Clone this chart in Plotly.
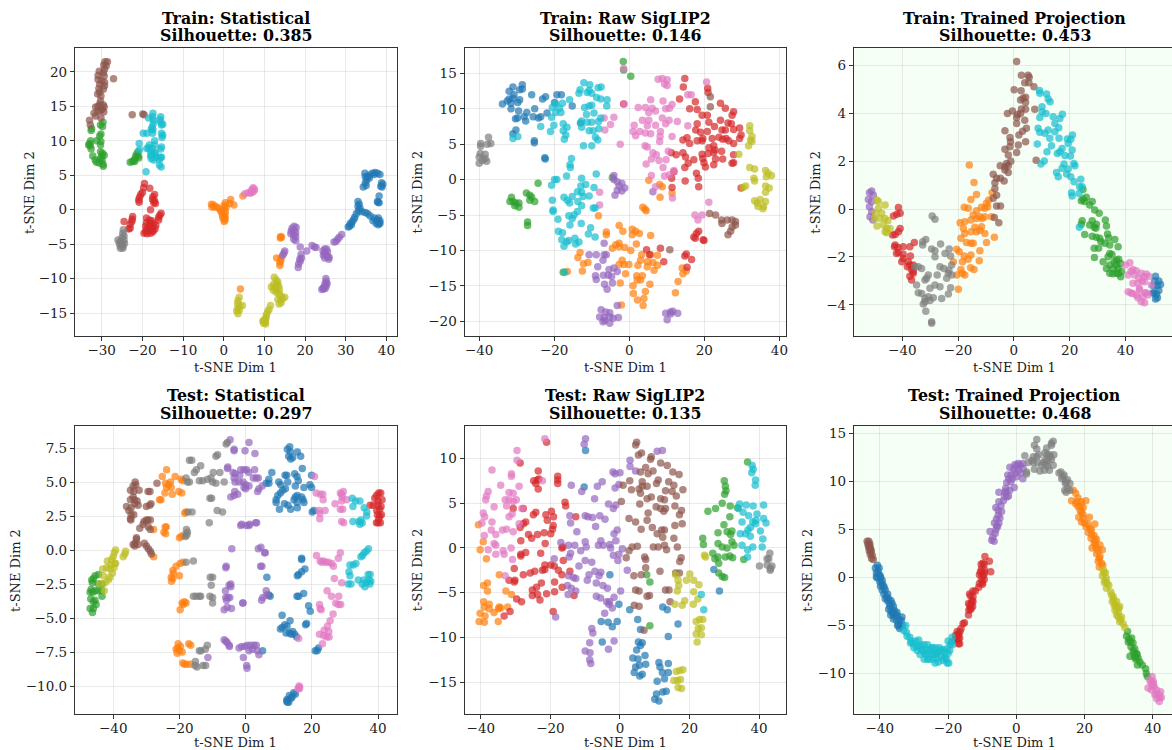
import plotly.graph_objects as go

BLUE, ORANGE, GREEN, RED, PURPLE, BROWN, PINK, GRAY, OLIVE, CYAN = (
    "#1f77b4", "#ff7f0e", "#2ca02c", "#d62728", "#9467bd",
    "#8c564b", "#e377c2", "#7f7f7f", "#bcbd22", "#17becf")

# ---- Train: Statistical
a_blue = [(34.7,5.3),(35.8,5),(36.5,5.3),(37.2,5.4),(37.8,5.3),(38.4,5.1),(34.8,4.8),(35.3,4.8),(35.8,4.6),(37,5.1),(35.2,4.3),(34.8,3.9),(35,3.5),(34.3,3.3),(38.8,3.9),(39.1,3.7),(38.6,3.4),(38.9,3.3),(38.2,2),(37.8,1.2),(38.2,1),(37.9,1.1),(33,1.2),(33.3,0.8),(33,0.5),(33.5,0.2),(33.1,-0.2),(34,-0.3),(34.8,-0.4),(35.4,-0.6),(36,-0.9),(32.6,-0.6),(32.2,-1.1),(32,-1.4),(31.6,-1.7),(31.1,-2),(30.9,-2.4),(30.6,-2.5),(31.4,-2.2),(37,-1.2),(38,-1.2),(37.7,-1.5),(38.4,-1.6),(38.2,-1.9),(37.5,-2),(38,-2.2),(38.4,-2),(36.7,-1.6)]
a_orange = [(-3,0.8),(-2.9,0.4),(-2.5,0.7),(-2.3,0.4),(-1.8,0.4),(-1.2,0.2),(-0.8,-0.1),(-0.5,-0.4),(0.4,1),(0.1,0.6),(0.6,0.4),(0.1,0.1),(0.4,-0.3),(-0.3,-0.8),(0.3,-0.8),(-0.2,-1.2),(0.3,-1.2),(0.1,-1.7),(0.3,-1.5),(1.7,1.5),(1.5,0.9),(2.5,0.7),(4.7,2),(14,-3.9),(13.9,-4.1),(14.2,-4),(13,-7),(14.1,-7),(14,-7.4),(13.8,-7.7),(13.8,-8.1),(4.1,-11.5)]
a_green = [(-29.7,12.7),(-30.3,12.3),(-29.8,12.1),(-32.5,11.8),(-32.6,11.5),(-30.2,11),(-30.5,10.7),(-32.7,10),(-31.2,10),(-30.2,9.9),(-30.3,9.4),(-33,9.6),(-32.8,9.3),(-33.2,9.4),(-32.6,8.8),(-30.3,8.4),(-29.8,8.2),(-30,7.8),(-29.4,7.9),(-32.2,7.8),(-30.4,7.4),(-29.9,7.2),(-31.6,7.2),(-31.3,6.9),(-30.6,6.8),(-29.7,6.6),(-29.6,6.3),(-21.1,8.4),(-21.5,8),(-21,7.8),(-21.7,7.6),(-20.9,7.5),(-22,7.2),(-22.5,7),(-21.9,7),(-23,6.9)]
a_red = [(-19.5,3.8),(-19.7,3.2),(-18.2,3.1),(-20,2.5),(-20.4,2.2),(-20.7,1.8),(-20.9,1.4),(-20.8,1.1),(-17,2.2),(-17.4,1.9),(-17.5,1.5),(-17,1.3),(-17.2,1),(-16.8,0.9),(-18,0),(-15.4,-0.5),(-15.7,-0.8),(-16,-1.1),(-16,-1.5),(-22.4,-1),(-22.5,-1.4),(-22.6,-1.7),(-24.5,-1.7),(-23,-2.1),(-23,-2.7),(-23.4,-2.8),(-19,-1.2),(-18.3,-1.5),(-17.7,-1.6),(-19,-1.9),(-18,-2),(-17.2,-2),(-19.2,-2.4),(-18.5,-2.5),(-17.6,-2.5),(-16.7,-2.3),(-19,-2.9),(-18.2,-3),(-17.5,-3),(-16.9,-2.8),(-19.6,-3.4),(-18.8,-3.5),(-18,-3.4),(-17.4,-3.2),(-19.2,-3.2)]
a_purple = [(17.3,-2.4),(16.8,-2.7),(17.8,-2.6),(16.6,-3.1),(17.3,-3.1),(17.7,-3.3),(16.5,-3.5),(17.2,-3.7),(17.7,-3.9),(17.2,-4.3),(17.7,-4.5),(18.8,-5.4),(15,-6),(14.8,-6.3),(14.5,-6.6),(19,-6.5),(19.1,-7),(18.7,-7.2),(18.8,-7.5),(18.4,-7.9),(18.3,-8.4),(20.4,-6),(21.7,-5.2),(22.3,-5.4),(22.7,-5.5),(24.8,-5.7),(25.3,-5.7),(24.4,-6),(25.5,-6.1),(24.8,-6.3),(24.5,-6.6),(25.2,-6.6),(24.8,-7),(25.5,-6.8),(25.9,-6.9),(25.8,-7.2),(25.1,-10),(25.2,-10.4),(25.4,-10.7),(24.9,-10.7),(25.2,-11),(24.7,-11.2),(25,-11.4),(24.4,-11.4),(24.1,-11.6),(24.6,-11.5),(27.1,-4.7),(27.6,-4.6),(28,-4.3),(28.4,-4),(29,-3.6)]
a_brown = [(-29.2,21.5),(-28.6,21.5),(-29.5,21),(-28.9,20.9),(-29.3,20.4),(-30.6,20.1),(-29.6,19.9),(-30.9,19.5),(-29.4,19.4),(-27.1,19),(-30.9,18.9),(-30,18.7),(-29.3,18.5),(-30.5,18.2),(-29.3,18),(-30.7,17.6),(-29.6,17.5),(-30.5,17.1),(-31,16.8),(-30.2,16.5),(-30.3,15.8),(-30.5,15.3),(-29.6,15.2),(-30.9,15),(-29.4,14.9),(-31.5,14.9),(-29.9,14.6),(-30.3,14.4),(-31,14.3),(-29.5,14.2),(-31.9,14),(-31.5,13.6),(-30.2,13.3),(-33,13),(-32.8,12.3),(-22.5,13.8),(-19.9,13.9),(-19.6,13.8)]
a_pink = [(5.2,2.3),(6,2.5),(6.5,2.4),(6.9,2.9),(7.2,3.2),(7.5,3),(7.2,2.6),(6.8,2.5),(7.5,2.8)]
a_gray = [(-24.7,-2.9),(-24.8,-3.4),(-24.5,-3.8),(-25,-4),(-26,-4.4),(-25.3,-4.5),(-24.5,-4.4),(-25.7,-4.8),(-25,-4.9),(-24.4,-4.9),(-25.5,-5.2),(-24.8,-5.3),(-25.4,-5.6),(-24.8,-5.6),(-25,-5.1)]
a_olive = [(12.4,-9.8),(12.9,-10.2),(13.3,-10.5),(12.3,-10.8),(13.1,-10.9),(11.7,-11.2),(12.5,-11.3),(13.5,-11.1),(12.2,-11.7),(13,-11.7),(13.7,-11.6),(12.9,-12),(13.6,-12.2),(14,-12.5),(14,-13.1),(13.3,-13),(14.5,-12.9),(15,-12.7),(13.6,-13.7),(14.1,-13.5),(11.5,-13.9),(11.1,-14.5),(10.8,-14.8),(10.5,-15.2),(10.4,-15.6),(10.3,-15.9),(9.9,-16),(9.6,-16.2),(10.2,-16.3),(9.8,-16.5),(10.3,-16.6),(3.8,-12.7),(3.5,-13.2),(3.4,-13.6),(4.6,-13.9),(3.9,-14),(3.4,-14.3),(3.2,-14.7),(3.8,-14.6),(3.5,-15.1)]
a_cyan = [(-17.4,14),(-15.5,13.5),(-17.5,13.5),(-18.5,13.3),(-15.7,13.1),(-17.3,13),(-15.5,12.7),(-17.3,12.5),(-15.3,12.3),(-15,12.4),(-17.6,12),(-17.8,11.7),(-17.4,11.6),(-19.8,11.1),(-18.9,11.1),(-17.5,11.1),(-15.3,11.1),(-15,10.8),(-15.2,10.5),(-17,10),(-20.8,9.6),(-18.3,9.4),(-17,9.4),(-18.5,9),(-15.3,9.1),(-15.5,8.8),(-18.9,8.9),(-17.5,8.9),(-18,8.5),(-20.7,8.7),(-16.8,8.3),(-17.7,8),(-17,8.1),(-18,7.8),(-15.3,7.6),(-16.7,7.6),(-17.8,7.4),(-15.8,7.3),(-17.2,7.2),(-15.6,7.6),(-15.8,6.5),(-15.4,6.2),(-19.1,5.5)]

# ---- Train: Raw SigLIP2
b_blue = [(-28.5,13.4),(-31,13.1),(-32,12.5),(-28.5,12.8),(-29.2,12.7),(-30.7,12),(-32,11.4),(-29.2,11.3),(-31,11.5),(-32.5,11.1),(-33.8,10.7),(-31.5,10.8),(-29.7,10.9),(-26,12),(-23.1,11.4),(-22.3,11.7),(-19.3,12),(-18.1,12),(-31.5,10),(-29.5,9.7),(-27.3,9.5),(-30.3,8.6),(-29.8,8.7),(-28,8.9),(-27.6,8.3),(-25.2,10),(-25.6,8.9),(-24.2,8.7),(-23.6,8.9),(-21.9,9.4),(-19.9,10.9),(-15.2,10.4),(-30.2,7),(-31,6.5),(-25.3,5.5),(-25.3,5.2),(-22.5,3.1),(-13,8),(-22.4,2.9)]
b_orange = [(5.2,-.1),(8.1,-.7),(8.8,-1),(11.4,-1.9),(8.2,-2.5),(3.6,-3.9),(4.2,-4.2),(4.5,-4.4),(-8.2,-5.1),(-2.7,-6.5),(-6.1,-7.4),(-6.1,-7.8),(-1.7,-7.3),(.8,-7),(1.7,-7.3),(.8,-7.8),(2.7,-7.6),(5.7,-7.9),(-2.7,-9),(1.9,-9.1),(-4.5,-9.7),(-2.7,-9.5),(-3.6,-9.2),(-1.2,-9.6),(.4,-10),(-13.1,-10.3),(-13.7,-11),(3.3,-10.6),(5.7,-10.6),(3,-11.4),(-1.9,-11.4),(7.5,-10.7),(-2.7,-12),(-1.4,-12),(-.1,-12),(4.8,-11.6),(6.3,-11.7),(-12.2,-11.9),(-11,-11.7),(2.3,-12.1),(4.8,-12.3),(7.5,-12.1),(-12.5,-12.9),(6.6,-12.8),(14.1,-12.5),(15.2,-12.9),(14.3,-13.3),(-1,-13.3),(-16.5,-13),(2,-13.6),(3.5,-13.6),(2.1,-14.2),(3,-14.2),(13,-14.4),(-2.4,-14.6),(1,-15),(5.5,-14.8),(4.3,-15.8),(1.1,-16.1),(12.3,-16),(3.9,-16.8),(2.2,-17),(-2.1,-17.7),(3.7,-17.8)]
b_green = [(-1.6,16.7),(-1.5,15.5),(.4,14.6),(-4.5,.3),(-24.3,-.5),(-27.4,-1.9),(-26.5,-2.2),(-26,-2.5),(-31.4,-2.5),(-31.8,-3.1),(-31,-3.1),(-30.3,-3.3),(-29.4,-3.3),(-30.5,-3.7),(-29.4,-3.9),(-26.5,-2.9),(-25.2,-3.1),(-27.1,-6),(-27.1,-6.5),(-17.6,-13.1)]
b_red = [(14.8,14.3),(14.4,13.1),(20.9,12.9),(21,12.3),(13.4,11.4),(17.6,11),(24.3,10.8),(25.6,10.1),(16.1,10),(18.1,9.9),(27.8,9.6),(19.4,9.1),(20.8,9.1),(27.4,9.1),(24.3,8.4),(18.1,7.9),(21.2,8.1),(26.3,8),(27.2,7.9),(22.7,7.5),(29.4,7.3),(17.7,7),(20.8,6.8),(24.7,7),(25.6,7),(27.8,7.1),(19,6.7),(29.8,6.3),(15.4,5.9),(19.6,5.8),(22.1,5.8),(23.9,6),(24.9,5.7),(25.8,5.8),(29.4,5.8),(14.3,5.6),(18.1,5.5),(19.4,5.5),(26.5,5.5),(27.8,5.1),(16.1,5.1),(22.5,4.8),(21.2,4.5),(22.8,4.2),(14.3,3.8),(24.6,4),(11.2,3.8),(12.5,3.5),(19.4,3.6),(22.5,3.8),(21,3.7),(15,3.2),(27.8,3.5),(19.6,3),(17.2,2.8),(15.7,2.3),(23,2.9),(24.9,2.9),(19.9,2.4),(27.4,2.3),(27.8,2.4),(20.3,1.8),(22.5,2.1),(14.8,1.7),(17.9,.9),(18.4,.2),(14.9,-.2),(11.3,.2),(11.4,-1.1),(18.5,-1),(11.9,1.1),(29.8,-1.2),(18.5,-7.3),(17.9,-7.6),(17.2,-8.1),(17.6,-8.3),(19.7,-8.5),(19.9,-8.6),(8.3,-9.7),(4.6,-9.9),(5.4,-10.6),(15.2,-10.5),(14.8,-10.8),(16.6,-11.3),(9.2,-11.6),(15.4,-12.4),(-1.5,10.7)]
b_purple = [(-4.1,.6),(-4.1,0),(-3.2,-.3),(-2,-.5),(-2.7,-.9),(-1.2,-1.2),(-3.2,-1.5),(-2,-1.6),(-3.8,-2.2),(6.3,-1.7),(-10.7,-10.6),(-8.8,-10.6),(-6.7,-9),(-6.7,-10.6),(-6.1,-10.6),(-7,-11.4),(-8.4,-12.3),(-5.4,-12.7),(-4.1,-12.5),(-3.2,-13),(-6.9,-13.5),(-9,-13.6),(-5.6,-13.5),(-4.7,-13.7),(-8.8,-14.1),(-6.6,-14.8),(-4.5,-14.6),(-5.9,-15.5),(-3.2,-17.8),(-7.5,-18.4),(-6.3,-18.7),(-5.2,-18.8),(-7.9,-19.4),(-6.7,-19.5),(-5.2,-19.4),(-4.3,-19.6),(-2.9,-19.5),(-7,-20.1),(-5.2,-20.3),(-6.5,-19.9),(9.7,-18.9),(11,-18.7),(11.6,-18.6),(12.9,-18.9),(11,-19),(10.1,-19.8)]
b_brown = [(21.6,11.7),(21.6,10.3),(10.8,-9.9),(21.4,-4.8),(23,-5),(24.6,-5.7),(26.1,-5.7),(27.4,-5.7),(28.3,-5.9),(24.7,-6.2),(28.3,-6.4),(27.4,-6.7),(27,-7.3),(26.3,-7.8)]
b_pink = [(-1.5,15.7),(7.7,14.2),(8.8,14.3),(10.1,14.1),(9.4,13.5),(10.1,13.3),(20.6,13.8),(-1.4,10.7),(5.7,11.3),(9,11.1),(15.6,12),(16.5,12),(2.4,10.2),(4.3,10.2),(6.1,10.1),(9.7,10),(11.4,10.6),(10.7,10.1),(5.2,9.5),(7,9.7),(-6.7,8.7),(-4.1,8.8),(3.5,8.4),(5.2,8.4),(8.8,8.7),(10.6,8.4),(12.8,8.2),(1.3,7.7),(4.8,7.6),(7,7.7),(9.7,7.9),(15.6,7.6),(-5,7.8),(-6.5,7),(1,6.8),(2.8,6.8),(1.7,6.2),(4.3,6.6),(5.7,6.5),(8.3,6.8),(8.2,6.1),(11.4,6.1),(8.1,5.4),(-2.4,5),(4.2,4.8),(4.8,4.6),(10.4,4),(6.3,3.8),(7.2,3.5),(5.9,2.9),(7.9,2.7),(9.8,2.8),(4.5,2.2),(9,1.7),(5.9,.6),(9.4,.5),(10.7,.7),(11.9,1.3),(-7.9,-1.8),(-7.9,-3.6),(7,-1),(11.5,-2.6),(21.2,-3.2),(17.5,-5),(19.4,-5),(18.3,-5.7)]
b_gray = [(-37.5,6),(-39.6,5.1),(-37.8,5),(-36.9,5.1),(-39.6,4.7),(-39.7,3.7),(-38.4,3.6),(-40,3.2),(-38.4,3),(-40,2.3),(-38,2.6),(-39.1,2.7)]
b_olive = [(32.1,7.6),(32.1,6.9),(32.7,6.1),(32.3,5.6),(32.7,5.4),(31.8,4.8),(29.2,3.6),(32.1,1.7),(33.4,1.5),(36.3,1.3),(37,.9),(37.9,.6),(36.5,.4),(33.2,.2),(33.4,-.2),(31,-.9),(30.3,-1.1),(36.3,-.9),(37.3,-1.2),(36.3,-1.8),(33.4,-3),(34.9,-2.8),(36.3,-3.1),(34.1,-3.3),(34.3,-3.8),(35.8,-3.8),(35.6,-4.1)]
b_cyan = [(-12.1,13.7),(-10.5,13.4),(-13.1,12.7),(-10.7,12.6),(-8.3,13),(-7.5,13.1),(-13.4,12.2),(-11.2,12.3),(-10,12.2),(-8.7,11.6),(-7.6,11.4),(-5.9,11.3),(-15.9,11.3),(-17.8,10.8),(-19.6,10.7),(-20.5,10.2),(-18.6,10.1),(-11.9,10.2),(-10.7,10.4),(-10,10.5),(-6,10.4),(-19.6,9.5),(-18.2,9.5),(-20.7,8.8),(-20.1,7.7),(-11.4,9.2),(-9.4,9.4),(-7.6,8.7),(-12.7,8.3),(-11.2,8.1),(-10,8.1),(-8.2,8.2),(-23.6,7.5),(-21,6.8),(-17.6,7.9),(-16.6,7.4),(-17.6,6.9),(-16.9,6.3),(-17.3,5.7),(-12.7,7.4),(-10.7,6.9),(-9.6,6.9),(-8.1,7.2),(-9,6),(-8.4,5.6),(-12.2,4.8),(-10,4.8),(-31,5.8),(-29.7,6.1),(-15.4,3),(-15.8,2.1),(-15.7,1.7),(-16.7,.5),(-12.7,.2),(-8.8,.8),(-19.9,0),(-20.7,-.8),(-19.3,0),(-12.9,-.9),(-11.6,-.7),(-9.4,-1.1),(-13.8,-1.7),(-12.7,-1.8),(-15.2,-2.4),(-12.3,-2.4),(-10.7,-2.3),(-17.4,-2.5),(-16.5,-2.9),(-20.5,-2.9),(-15.9,-3.3),(-13.7,-3.1),(-12.7,-3.7),(-9.6,-4),(-9.1,-4),(-20.3,-4.3),(-20.3,-4.5),(-16.1,-5.1),(-14.7,-5),(-13.8,-4.5),(-19,-5.6),(-15.2,-5.5),(-12.8,-6.2),(-15.8,-6.4),(-18.9,-7.3),(-17.8,-7.5),(-10.3,-6.8),(-10.9,-7.7),(-9.1,-8.1),(-18,-8.5),(-16.1,-8.6),(-14.5,-8.3),(-13.4,-8.8),(-17.4,-9.4),(-16.7,-8.8),(-14.3,-9.1),(-17.2,-13.1)]

# ---- Train: Trained Projection
c_blue = [(50.8,-2.8),(52,-3),(50,-3.2),(51.5,-3.2),(52.6,-3.15),(50.3,-3.5),(51.2,-3.55),(52,-3.4),(50.8,-3.75),(51.5,-3.7),(50.5,-3),(49.8,-3.5)]
c_orange = [(-16,1.84),(-14.3,1.11),(-13.4,.61),(-7.8,.68),(-9,.38),(-9.8,.24),(-15.4,.4),(-17.8,.07),(-16.4,.03),(-11.6,.07),(-9.4,.1),(-10.4,.03),(-13.4,-.07),(-14.6,-.25),(-12.2,-.32),(-10.4,-.32),(-8,-.32),(-19.3,-.57),(-17.6,-.53),(-15.4,-.46),(-13.4,-.39),(-11.4,-.39),(-18.1,-.81),(-14,-.76),(-11.6,-.74),(-17.6,-1.02),(-15.4,-.95),(-13.4,-.95),(-12.2,-.88),(-19,-1.22),(-10.4,-1.02),(-7,-1.18),(-17,-1.4),(-15.4,-1.43),(-14.6,-1.43),(-9.8,-1.4),(-20.5,-1.68),(-19.6,-1.78),(-12.2,-1.74),(-17.8,-1.96),(-15.4,-1.92),(-16.4,-2.1),(-18.4,-2.2),(-12.4,-2.16),(-21.7,-2.2),(-19,-2.52),(-15.5,-2.45),(-14.3,-2.52),(-20.5,-2.75),(-18.5,-2.68),(-17.6,-2.75),(-19.9,-3.35)]
c_green = [(24.8,.82),(26,.49),(24.8,.42),(24.2,.35),(25.4,.31),(28.1,.31),(27.2,.17),(29,-.04),(30.6,-.18),(24.5,-.49),(28.1,-.49),(32.8,-.46),(24.2,-.63),(27.2,-.67),(29.6,-.63),(28.8,-.76),(33.2,-.71),(25.4,-1.06),(28.1,-1.13),(29.6,-1.18),(30.8,-1.22),(33.6,-1.04),(36.2,-1.27),(32.6,-1.43),(34.4,-1.5),(28.8,-1.64),(30.4,-1.64),(37.4,-1.57),(34.4,-1.85),(28.9,-2.02),(33.8,-1.99),(36.8,-2.13),(32,-2.2),(34.4,-2.34),(36.8,-2.34),(38.3,-2.27),(33.2,-2.48),(35.6,-2.48),(37.4,-2.48),(38.6,-2.61),(34.4,-2.68),(36.8,-2.68),(38.3,-2.82),(37.5,-2.7),(35.5,-2.7),(36,-2.2),(37.6,-2.1),(35.2,-1.9),(34,-1.2),(29.4,-.8),(31.2,-1.35)]
c_red = [(-41.4,.06),(-40.8,-.18),(-42,-.22),(-43.2,-.29),(-40.8,-.81),(-41.4,-.95),(-42.6,-1.06),(-43.5,-1.08),(-35.7,-1.4),(-37.3,-1.57),(-39.7,-1.57),(-42.6,-1.5),(-41.6,-1.6),(-42.8,-1.57),(-41.4,-1.82),(-39.7,-1.89),(-42.1,-1.85),(-37.1,-1.96),(-39.7,-2.06),(-40.2,-2.2),(-37.9,-2.2),(-37.3,-2.34),(-36.1,-2.34),(-38.2,-2.41),(-36.7,-2.52),(-36.1,-2.61),(-37.3,-2.8),(-36.1,-2.68),(-36.7,-2.96)]
c_purple = [(-51,.75),(-51.8,.68),(-50.4,.58),(-52.2,.4),(-51,.31),(-51.8,.1),(-51,-.11),(-51.6,-.32),(-50.6,-.46)]
c_brown = [(1,6.16),(2.7,5.58),(5.1,5.58),(5.5,5.5),(3.9,5.27),(5.4,5.27),(7.2,5.1),(.1,4.98),(2.6,4.94),(3.3,4.62),(4.2,4.66),(2.4,4.55),(4.2,4.45),(7.5,4.16),(2.7,4.17),(4.2,4.16),(-.5,4.09),(-2.3,3.99),(1.3,3.94),(2.4,3.99),(1,3.82),(3.9,3.71),(1,3.57),(4.5,3.37),(-3.2,3.27),(3.1,3.25),(1.8,3.09),(-1.4,2.99),(-1.2,2.81),(1.6,2.67),(4.2,2.81),(-3.2,2.5),(-1.4,2.6),(1,2.36),(-2,2.25),(8,2.04),(-1.1,1.99),(-2.6,1.9),(-4.9,1.81),(-3.2,1.77),(-2,1.81),(-3.2,1.63),(-2,1.52),(-7.4,1.45),(-6.2,1.28),(-4.8,1.28),(-3.5,1.17),(-6.8,1.1),(-6.8,.86),(-6.2,.58),(-7.4,.45),(-6.2,.13),(-4.8,.13),(-7,-.35),(-5.4,-.57)]
c_pink = [(41.6,-2.24),(40,-2.34),(42.7,-2.52),(43.9,-2.57),(41,-2.75),(43.3,-2.75),(45.7,-2.68),(47.5,-2.71),(44.8,-2.89),(46.7,-2.82),(48.4,-2.8),(42.7,-3.1),(44.5,-3.1),(46.9,-3.03),(49.3,-3.17),(41,-3.45),(42.7,-3.52),(45.1,-3.38),(47.5,-3.49),(44.5,-3.7),(46.3,-3.66),(48.1,-3.59),(45.7,-3.87),(46.9,-3.91),(42,-2.6),(46,-3),(45,-3.3),(47,-3.5),(42,-3.5),(44,-3.6)]
c_gray = [(-29.3,-.29),(-28.3,-.43),(-31.6,-1.27),(-32.7,-1.36),(-32.7,-1.5),(-29.5,-1.67),(-26.3,-1.46),(-28.3,-1.74),(-23.2,-1.67),(-24.7,-1.85),(-28.3,-1.99),(-22.7,-1.96),(-34.3,-2.41),(-33.1,-2.48),(-26.5,-2.41),(-25.1,-2.48),(-22.3,-2.34),(-23.3,-2.55),(-30.7,-2.75),(-27.5,-2.75),(-23.5,-2.68),(-22.3,-2.75),(-31.3,-2.89),(-24.1,-2.89),(-31.9,-2.96),(-34.9,-3.17),(-34.3,-3.49),(-33.1,-3.52),(-30.1,-3.31),(-28.3,-3.17),(-26.5,-3.24),(-22.7,-3.28),(-23.5,-3.55),(-25.9,-3.73),(-31.9,-3.73),(-30.7,-3.66),(-28.9,-3.7),(-30.1,-3.82),(-32.5,-3.96),(-31.6,-4.26),(-29.5,-4.7),(-29.5,-4.77),(-31.9,-3.87),(-35.5,-2.41)]
c_olive = [(-49.2,.38),(-48.6,.31),(-46.2,.17),(-48.6,.03),(-49.6,-.18),(-47.4,-.18),(-50,-.39),(-48,-.39),(-46.2,-.39),(-45.2,-.49),(-49.1,-.71),(-46.8,-.67),(-45.6,-.81),(-44.4,-.81),(-45.6,-.99),(-46.2,-.95)]
c_cyan = [(9.2,4.95),(11.7,4.8),(9.3,4.83),(12.3,4.59),(13,4.48),(10.1,4.27),(10.1,4.06),(11.5,3.99),(9.3,3.82),(17.4,3.96),(14.1,3.85),(16.5,3.78),(14.7,3.57),(16.1,3.39),(8.7,3.37),(9.3,3.2),(11.1,3.16),(12.3,3.3),(14.7,3.23),(21,3.09),(16.2,2.95),(12.9,2.95),(19.2,2.92),(20.4,2.91),(19.5,2.74),(8.4,2.71),(13.5,2.64),(20.9,2.46),(17.3,2.53),(16.5,2.39),(11.9,2.39),(15.6,2.32),(18.3,2.23),(20.3,2.21),(10.9,2),(9.7,1.88),(21.5,1.9),(21.9,1.81),(18,1.88),(17.3,1.7),(19.5,1.67),(15.3,1.53),(15.9,1.35),(18.9,1.46),(20.4,1.35),(24,1.24),(21.6,1.14),(23.6,.93),(24.5,.93),(20.7,.68),(23.4,.65),(20.9,.54),(23.5,-.76)]

# ---- Test: Statistical
d_blue = [(13.3,7.6),(12.6,7.4),(13.5,7.2),(15.6,7.2),(13,6.9),(13.6,6.7),(14.2,6.8),(16.6,6.9),(17.1,6),(7.9,5.7),(11.9,5.5),(12.4,5.5),(14.8,5.6),(15.5,5.4),(19.9,5.5),(7,5.2),(6.2,4.9),(7,4.9),(10,5),(10.6,4.8),(12.7,5),(15.9,5.1),(15,4.7),(17.6,4.6),(19.4,4.8),(19.9,4.6),(12,4.5),(11.2,4.4),(10.5,4.2),(9.7,4),(15,3.9),(15.6,4),(16.9,3.9),(14.6,3.7),(15.5,3.5),(17.3,3.7),(17.6,3.5),(9.2,3.7),(9.2,3.5),(11.7,3.4),(12.8,3.3),(15.6,3.1),(10.2,3),(13.6,3),(20.1,2.8),(20.6,2.9),(16.9,-0.6),(16.9,-0.7),(17.9,-1.4),(16.9,-1.6),(16,-1.8),(15.6,-1.9),(6.4,-2),(16,-3.4),(15.5,-3.4),(17.5,-3.2),(7,-3.3),(7.4,-3.4),(19,-4.1),(19.5,-4.5),(11,-4.8),(13.4,-5.2),(18.4,-5.4),(18.1,-5.5),(11.8,-5.5),(11,-5.7),(10.5,-5.8),(12.5,-5.6),(12.2,-6.1),(13.2,-6.1),(14.2,-6),(13.8,-6.2),(14.8,-6.2),(15.4,-6.4),(5.1,-7.4),(21.6,-7.4),(21,-7.4),(22,-7.2),(12.5,-11),(13.2,-10.7),(14,-10.8),(15,-10.6),(12.4,-11.1),(13,-11.2),(12.6,-11.2),(14.5,-10.5),(13.7,-10.9)]
d_orange = [(-23.9,5.9),(-25.2,5.4),(-21.3,5.4),(-24.2,4.9),(-23.3,4.8),(-22.7,5),(-19.5,5.2),(-19,5.1),(-23.9,4.6),(-22.5,4.6),(-24.4,4.2),(-22.2,4.1),(-20.2,4.3),(-19.3,4.2),(-26,3.7),(-25.6,3.7),(-18.4,2.7),(-18.1,2.8),(-27.8,1.5),(-24.3,1.7),(-24,1.7),(-24.7,1.3),(-24.2,1.2),(-20,0.9),(-19.5,1),(-18.7,1.1),(-27.8,-0.5),(-19,-0.9),(-19.8,-1),(-21,-1.2),(-22,-1.5),(-21.8,-1.7),(-22.5,-2),(-22,-2.1),(-20,-1.9),(-22.4,-2.3),(-19.8,-4.4),(-18.5,-3.8),(-18,-3.9),(-18.9,-4),(-19.2,-3.9),(-20.4,-6.9),(-20.5,-7.2),(-19.7,-7.1),(-21,-7.3),(-20,-7.4),(-20.7,-7.6),(-19.2,-7.5),(-17.2,-6.9),(-16.6,-7),(-19,-8.3),(-18.5,-8.4),(-17.8,-8.4),(-16.7,-8.4)]
d_green = [(-44.5,-1.8),(-45.5,-1.9),(-46,-2.1),(-46.5,-2.2),(-46.3,-2.4),(-44.5,-2.5),(-43.4,-2.5),(-46.7,-2.9),(-45.5,-3),(-44.5,-3),(-43.5,-3),(-47,-3.1),(-46.2,-3.1),(-43.4,-3.4),(-46.8,-3.6),(-45.5,-3.7),(-46,-3.8),(-45.2,-4),(-47,-4.3),(-46,-4.3),(-46.3,-4.6)]
d_red = [(40.2,4.2),(40.8,4.2),(39.5,4),(39,3.8),(41.2,3.7),(40,3.6),(37.6,3.3),(38.5,3.3),(39.9,3.3),(40.9,3.2),(39.6,2.9),(40.5,3),(39.8,2.6),(41,2.6),(40.5,2.5),(39.5,2),(40,2),(40.7,2),(40.2,2.3)]
d_purple = [(-4.7,8.1),(-3.5,7.4),(-3.5,7.3),(-0.2,7.3),(1,7.9),(2.8,7.1),(-5.4,6.1),(-5.5,6),(-3.8,5.7),(-3.2,5.6),(-1.5,5.9),(-0.5,5.9),(0.3,5.9),(0.9,5.7),(2.7,5.9),(-3.5,5.3),(-1.8,5.5),(-3.2,5),(-2,5),(-0.8,5),(0,4.8),(1,4.7),(2.3,5.3),(3.2,5.3),(3.8,5.3),(-0.5,4.6),(0,4.5),(4,4.5),(5,4.7),(3.6,4.3),(-3.3,4.3),(-2.4,4.1),(-4.5,3.9),(-3.5,4),(-1.5,1.8),(-1.2,1.9),(0.2,1.8),(1,1.8),(1.2,1.9),(3,2),(3.3,2),(-4.2,0.1),(3.8,0.1),(4.6,0.2),(5.7,-0.2),(5.9,-0.2),(-6,-1.3),(-5.9,-1.2),(4.5,-1.2),(4.9,-1.2),(-4.5,-2.5),(-5,-2.6),(-6.1,-3),(-4.5,-2.7),(-6,-3.5),(-5.3,-3.5),(-5.8,-3.7),(-4.8,-3.5),(6.2,-3),(6.4,-3.3),(5.2,-3.5),(4.8,-3.7),(-0.9,-3.9),(-0.8,-3.9),(-6.5,-4.4),(-5.6,-4.2),(-4.3,-4.3),(-6.5,-6.6),(-6,-6.7),(-5.6,-6.8),(-5,-7),(-4.9,-7.1),(-2,-7.2),(-1.2,-7.1),(-0.3,-7.1),(0.5,-7),(1.5,-7),(2.5,-7),(3.2,-7),(1,-7.4),(2,-7.3),(3.5,-7.4),(4,-7.7),(-0.7,-7.9),(0.3,-8.5),(0.4,-8.7),(-11.4,-7.9)]
d_brown = [(-33.4,5),(-33.2,4.8),(-34,4.7),(-26.8,4.9),(-34.8,4.4),(-33.8,4.3),(-32.2,4.4),(-34,3.9),(-34.8,3.7),(-33.6,3.7),(-32.8,3.6),(-33.5,3.4),(-32.5,3.3),(-36,3.2),(-34.6,3.1),(-35.3,2.9),(-29.5,4.3),(-28.9,4.3),(-30,3.2),(-29,3.3),(-28.6,3.4),(-34.6,2.6),(-33.8,2.6),(-34.8,2.3),(-34.7,2.2),(-30.7,2.1),(-30,2.2),(-29.5,2.2),(-28.8,2.2),(-31,1.9),(-32,1.6),(-29.4,1.7),(-28.8,1.5),(-33,0.8),(-33.4,0.5),(-34,0.4),(-33.5,0.3),(-32.5,0.4),(-30.6,0.5),(-30,0.3),(-29.4,0.1),(-28.8,-0.1),(-28.5,-0.3),(-33,0.9)]
d_pink = [(20.8,5.4),(21.3,4.2),(22.5,4.1),(23.3,4.1),(23.4,3.7),(22.2,2.9),(24,2.9),(22.4,2.3),(22.4,2.7),(21.4,-0.4),(22.5,-0.8),(23.5,-0.8),(24.2,-0.9),(25,-0.9),(26,-1),(26.5,-1.2),(23,-0.9),(28,-0.6),(28.6,-0.2),(26.8,-2.1),(29,-2.4),(24.6,-3),(25.9,-3.4),(28.1,-3.4),(27.2,-3.9),(28,-4),(28.7,-4),(22.3,-4),(22.8,-4.4),(22.5,-4.3),(26.4,-4.7),(25.5,-5.2),(24.7,-5.6),(23.7,-5.9),(25.1,-6),(22.3,-6.2),(23.6,-6.3),(24.5,-6.4),(25.2,-6.4),(23.2,-6.9),(16,-6.5),(16.1,-10),(16.2,-10.2),(15.8,-10.2),(16.3,-10.1),(29,4.1),(29.5,4.3),(28.6,4.2),(29.2,3.9),(29,3.6),(30.5,3.7),(27,3.4),(28.6,3),(29.3,3),(29,2.1),(29.6,2)]
d_gray = [(-5.9,7.8),(-5.5,7.9),(-9,6.9),(-8.5,7),(-17,6.6),(-16.3,6.6),(-13.6,6.2),(-14.9,5.9),(-15.5,5.7),(-9.8,5.7),(-7.8,5.7),(-18,5.3),(-17.6,5),(-17,5),(-14,5.1),(-13,5.1),(-11.5,5.2),(-10.5,5.3),(-10,5),(-9,4.9),(-6.5,5),(-10.8,3.8),(-10.3,3.8),(-8.6,2.9),(-7,2.8),(-17.4,2.8),(-16.2,2.8),(-11,2),(-17.9,1.5),(-17.8,1.1),(-17.6,1.3),(-18.2,1),(-18,-0.9),(-15.8,-0.8),(-10.7,-2),(-10,-2),(-10.4,-2.6),(-15.8,-3.4),(-15,-3.4),(-14,-3.4),(-13.6,-3.4),(-10.8,-3.4),(-10,-3.5),(-10,-3.9),(-14,-7.4),(-13.5,-7.4),(-11.6,-7),(-12.2,-7.3),(-15.2,-8.2),(-15.3,-8.5),(-14.7,-8.6),(-12.9,-8.5),(-12.1,-8.5)]
d_olive = [(-39.3,0),(-39.7,-0.2),(-36.3,-0.1),(-36.5,-0.3),(-37,-0.5),(-40,-0.5),(-40.5,-0.7),(-39.5,-1),(-41.8,-0.8),(-40.7,-1.1),(-39.3,-1),(-42,-1.3),(-41,-1.4),(-39.8,-1.3),(-43.2,-1.4),(-40.3,-1.7),(-41,-2),(-43,-1.9),(-41.5,-2.2),(-42.5,-2.4),(-44,-2.5),(-42.7,-3)]
d_cyan = [(32.2,3.8),(33.2,3.6),(34.5,3.6),(32.4,3.2),(35.8,3.1),(36.6,2.8),(36.5,2.5),(32.4,2.1),(34.2,2.1),(34.8,2.2),(34.5,1.9),(35.2,2),(37.1,0.1),(36.5,-0.1),(35.8,-0.2),(35.3,-0.4),(34.8,-0.5),(33.3,-1),(32.5,-1.1),(31.5,-1.1),(31.2,-1.6),(31.5,-1.9),(31,-2.5),(31.8,-2.5),(34,-2.2),(35.7,-2.2),(37,-1.8),(37.6,-1.8),(37.2,-2.2),(37.8,-2.3),(36.5,-2.4),(35.2,-2.5),(36,-2.7),(37.5,-2.5)]

# ---- Test: Raw SigLIP2
e_blue = [(-9.9,10.9),(-10.3,6.8),(-2.9,-3),(-.3,-6.3),(-5.4,-8.2),(-3.4,-8.3),(-2.2,-8.8),(-.8,-8.2),(-5.1,-10.5),(2.8,-6.9),(5.1,-8),(5.9,-9.1),(12.3,-6.6),(13.6,-6.9),(16.7,-8.5),(13.9,-9.9),(6.4,-10.6),(5.3,-10.5),(5.9,-10.9),(4.8,-11.4),(7.2,-12),(3.7,-12.3),(5.2,-12.4),(4.5,-13.3),(5.6,-13.1),(7.4,-13),(4.1,-13.9),(5.7,-14.3),(6.4,-14.1),(11.2,-12.8),(11.5,-13.3),(13.9,-12.9),(12.2,-13.9),(13.9,-13.9),(12.8,-14.6),(10.7,-14.9),(10.5,-16.3),(12.3,-16.1),(13.3,-16),(10,-16.9),(11.2,-17.1),(27,-2.4),(28.6,-4.8)]
e_orange = [(-40.7,2.6),(-39.3,.7),(-40.2,-.2),(-38.4,-1.2),(-34.7,-3),(-38.1,-3.9),(-39.2,-4.2),(-38.1,-4.8),(-32.8,-4.8),(-31.2,-5.2),(-39.2,-6),(-37.6,-6.3),(-39,-6.6),(-37.6,-6.8),(-34.7,-6.6),(-32.3,-6.6),(-34.9,-6.8),(-36.2,-7.2),(-40.2,-7.3),(-38.8,-7.6),(-40.5,-8.2),(-39,-8.3),(-35,-8.2),(-34.3,-6.7)]
e_green = [(36.7,9.6),(30,7.5),(30.3,6.9),(30.5,6.4),(30.1,6),(29.4,5),(31.7,4.7),(27.5,4.4),(25.3,4.1),(33.8,4.5),(31.6,3.5),(29.9,2.6),(28.2,1.7),(30.8,1.8),(32.2,1.9),(31.8,1.5),(32.2,.7),(23.8,1.1),(24,.4),(28.2,.5),(29.4,.1),(30.8,0),(32.8,.3),(26.7,-.6),(28.2,-1),(27.3,-1.2),(28.4,-1.7),(30.3,-1),(31.6,-.9),(32.4,-1.1),(35.6,-1.3),(28.4,-2.8),(29.4,-3.2),(30.1,-3.3),(7.7,-3),(8.6,-3.8),(8.6,-8.7)]
e_red = [(-21.1,11.8),(-28.7,9.5),(-23.5,8.6),(-24.8,7.5),(-23.7,7.6),(-23.3,7.7),(-24.2,7.2),(-23.5,6.6),(-17.9,8),(-17.9,7.6),(-17.9,7.2),(-15.8,5.1),(-15.6,4.7),(-30.7,4.4),(-27.8,4.4),(-24.2,4),(-24.9,3.7),(-19.7,4.1),(-12.7,3.5),(-21.3,3.7),(-19.1,3.5),(-27.1,2.9),(-27.8,2.7),(-20.9,3.1),(-19.2,2.5),(-28.7,2.3),(-19.4,2.1),(-26.3,1.5),(-23.7,1.5),(-21.8,1.7),(-19.9,1.6),(-25.4,1.1),(-28.5,.8),(-21.5,.5),(-16.7,0),(-16.4,.1),(-27.1,-.5),(-28.5,-.7),(-22.8,-.6),(-28.5,-.9),(-16.3,-1.4),(-21.6,-1.9),(-19.9,-1.9),(-18.9,-2),(-30.4,-2.3),(-21.6,-2.4),(-22.3,-2.5),(-17.7,-2.5),(-14.4,-2.6),(-25.8,-2.8),(-24.5,-2.6),(-27.8,-3),(-16.7,-3),(-31.9,-3.6),(-30.2,-3.6),(-30.4,-3.8),(-22.6,-3.9),(-18.8,-3.8),(-24,-4.4),(-25.2,-4.7),(-16.6,-4.4),(-25.2,-5.3),(-23.7,-5.2),(-21.1,-5.1),(-18.8,-4.9),(-23,-5.8),(-13.2,-5.3),(-29.7,-5.7),(-28.3,-6),(-31.6,-7.1),(-19.2,-7.1),(-33.3,-7.6)]
e_purple = [(-9.9,12.2),(-10.3,11.6),(10.7,10.8),(12.2,10.9),(2.9,9.8),(2.9,9.1),(4.5,8.6),(-2,8.5),(-1.4,8.3),(0,8.4),(-14,7),(-5.1,7.4),(-6.5,6.9),(-.3,7.1),(-1.4,6.7),(-11,6.3),(-7.3,5.5),(-3.3,4.9),(-1.2,4.8),(-1.9,4.4),(-14.4,3.6),(-10,3.6),(-9.2,3.5),(-7.9,3.4),(-5.8,3.6),(-4.3,3.2),(-14.2,2.8),(-7,2.4),(-12.4,1.8),(-.8,2),(-1.7,1.6),(-17,.6),(-5.5,.8),(-1.2,.8),(-10,.7),(-14.8,.3),(-13,.3),(-9.7,.1),(-6.2,.3),(-4.8,.3),(-2.9,.4),(-11.3,-.3),(-14.2,-.6),(.7,-.1),(-2.7,0),(-14.6,-1),(-1.9,-.8),(-.3,-.7),(-18.9,-1.2),(-10,-1.4),(-8.1,-1.6),(-.6,-1.4),(-11.8,-2),(2.1,-2.5),(-7.2,-2.6),(-5.5,-2.7),(-8.9,-3),(-6,-3.1),(-14.8,-3.1),(-13.4,-3.3),(-12.7,-3.4),(-9.4,-3.6),(-6.8,-3.9),(-4.9,-4.2),(-3.6,-4.5),(-15.1,-4.2),(-14,-4.5),(-12.7,-4.8),(-14.9,-5.2),(.2,-4.8),(-6.8,-5.4),(-5.6,-5.6),(-3.8,-6),(-1.7,-5.5),(-3,-6),(-3.2,-6.3),(-2.2,-6.7),(-4.4,-7.3),(-18.5,-7.7),(-8.1,-9),(-7.8,-9.5),(-8.7,-10.6),(-1.7,-10.4),(-10,-11.5),(-8.6,-11.7),(-3.3,-11.3),(-8.7,-12.5),(-8.4,-12.9)]
e_brown = [(4.8,11.8),(4.5,11.5),(5.3,10.4),(6.2,10.6),(9,10.2),(8.8,9.9),(11.7,9.5),(13.6,9.2),(7.4,9),(5.9,8.5),(9.5,8.6),(8.1,8.3),(15.2,8.5),(17,8.2),(11,7.6),(14,7.4),(6.4,7.4),(10.5,7.2),(15.5,7),(.9,7),(2.8,7.5),(6.4,6.9),(7.8,6.9),(5.5,6.6),(3.3,6.5),(13.1,6.4),(18.1,6.5),(5.9,6.1),(15,6.3),(16.2,5.8),(9,5.7),(7.8,5.5),(11.7,5.5),(12.8,5.4),(.4,5.2),(5.7,4.9),(10.4,4.6),(15.8,4.7),(11.7,4.4),(13.1,4.4),(12.6,4.1),(17.7,4.2),(8.1,3.9),(17.1,3.7),(2.6,3.3),(7.8,3.1),(4.5,2.9),(17.9,2.7),(15.8,2.5),(9.3,2.3),(6.1,2.1),(12,2),(12.8,2),(10.7,1.6),(12.3,1.2),(15.5,1.1),(3.5,.1),(5,.2),(9.6,.1),(11,.1),(12.8,.3),(13.4,-.2),(16.5,.1),(2.6,-.3),(17.6,-1.1),(7.1,-1),(7.4,-1.3),(17.2,-1.5),(7.4,-2.2),(11.5,-2.6),(6.1,-3),(4,-3.1),(16,-2.8),(17.1,-2.8),(4.5,-4.7),(5.5,-4.8),(13.1,-4.7),(14.1,-4.7),(7.8,-5.4),(8.5,-5.3),(14.4,-6),(4.1,-6.4),(5.5,-6.5),(6.9,-9.2),(1.8,-1.1)]
e_pink = [(-21.6,12.2),(-29.6,10.9),(-29.6,9.8),(-36.8,8.7),(-31.2,8.3),(-31.2,8),(-34.3,7),(-29,6.9),(-22.3,7.5),(-37.9,6.3),(-31.9,6.2),(-30.7,6.1),(-38.4,5.8),(-38.6,5.4),(-33,5.4),(-31.9,5.4),(-29.8,5.4),(-36.2,4.6),(-30.7,5.2),(-32.6,4.7),(-28.2,4.4),(-39.3,3.9),(-38.9,3.5),(-31.9,3.5),(-31,3.8),(-39.7,2.8),(-36.8,2.9),(-29,2.7),(-37,2),(-33.8,2),(-32.6,2.1),(-30.7,1.8),(-39,1.4),(-35.7,1.5),(-36.2,.5),(-35.7,.3),(-37.9,-.2),(-33.6,-.3),(-31.3,0),(-35.7,-.7),(-33.3,-.7),(-30.9,-1.3),(-33,-3.1)]
e_gray = [(43.1,-.6),(42.3,-1.2),(42.8,-1.2),(40.1,-2),(42.3,-1.9),(43.7,-2),(43.2,-2.5),(43.3,-2.3)]
e_olive = [(20.1,-2.9),(16.7,-3.6),(19.1,-3.6),(21.2,-3.6),(22.7,-4.1),(16.9,-4.2),(16.5,-4.8),(21.2,-4.9),(18.6,-5.9),(22.4,-5.7),(15.8,-6.3),(17.9,-6.4),(21.1,-6.3),(16,-3),(24.3,-.8),(24.6,-1),(23.8,-8),(22.9,-8),(21.9,-8.2),(22.5,-9),(23.4,-8.9),(21.9,-9.6),(23.4,-9.7),(22.2,-10.5),(18.1,-13.6),(17.2,-13.7),(16.2,-13.8),(17.4,-14.7),(16.5,-14.8),(15.5,-14.8),(16.7,-15.6),(17.7,-15.7)]
e_cyan = [(38,9.2),(38.3,8.8),(37.9,8.4),(39,7.6),(38.9,7),(34.4,4.9),(36.3,4.8),(38.3,4.7),(41.3,4.8),(34.1,4.4),(35.4,4),(39.4,3.8),(37,3.6),(41.3,3.3),(39.1,3.1),(38.2,2.9),(42,2.8),(35.1,2.9),(39,2.7),(37.5,2.3),(36.8,2),(40.4,1.9),(34.6,1.6),(36.1,1.6),(37.5,1.3),(41.1,1),(35.1,.3),(38.2,.1),(40.9,.1),(36.7,-.2),(36.7,-1),(23.4,-5.2),(24.1,-6.9)]

# ---- Test: Trained Projection
f_blue = [(-40.7,1.3),(-41.3,1),(-40.5,0.7),(-41,0.5),(-40.2,0.3),(-40.8,0),(-39.7,0),(-40,-.4),(-39.3,-.3),(-39.8,-.9),(-39,-.8),(-39.3,-1.3),(-38.4,-1.3),(-38.8,-1.7),(-37.7,-1.7),(-38.4,-2.2),(-37.7,-2.4),(-37.2,-2.7),(-36.4,-2.7),(-37,-3),(-36,-3),(-36.7,-3.5),(-35.8,-3.4),(-36.8,-3.9),(-35.8,-4),(-36,-4.3),(-34.8,-4),(-35,-4.5),(-33.5,-4.1),(-33.7,-4.5),(-34.5,-4.9),(-33.8,-5.1),(-33.3,-5),(-34.2,-5.3),(-40.2,1),(-41,.1),(-39.9,.2),(-39.5,-.6),(-38.7,-1),(-38,-2),(-37.4,-2.2),(-36.7,-2.4),(-37.4,-3.3),(-36.2,-3.7),(-35.4,-3.8),(-35,-3.6),(-34.2,-4.4),(-34.8,-5)]
f_orange = [(16.7,9.1),(17.4,8.8),(16.2,8),(18.1,8.3),(19.1,7.9),(20.4,8),(17.4,7.7),(18.1,7.4),(19.6,7.3),(19.1,6.8),(18.3,6.3),(19.6,6.2),(21.4,6.3),(19.1,5.8),(23,5.6),(20.4,5.3),(21.6,5.1),(21.1,4.7),(22.8,4.4),(21.9,4.1),(23.5,4),(22.8,3.6),(24.5,3.4),(22.2,3.1),(23.5,3.1),(25.2,2.9),(23.5,2.5),(24.5,2.2),(24,1.7),(25,1.5),(24.3,1.1),(25.3,1.3),(17.8,7.9),(18.9,7.5),(18.7,7),(19.5,6.6),(20,5.7),(21,5.6),(22,5),(22.1,4.5),(23,3.9),(23.2,3.4),(24,2.8),(24.3,2)]
f_green = [(32.6,-5.6),(32.3,-6.1),(33.8,-6.3),(32.8,-6.7),(34.2,-6.8),(33.6,-7.2),(34.7,-7.4),(33.3,-8.2),(35.2,-7.9),(35.7,-8.4),(34.7,-8.3),(36.2,-8.8),(35.5,-9.1),(36.9,-9.1),(37.9,-9.5),(38.1,-10),(38.4,-10.3),(33,-6.4),(33.5,-6.7),(34.2,-7.6),(34.5,-7.9),(35,-8.5),(35.4,-8)]
f_red = [(-18,-6.5),(-17.3,-5.6),(-16.5,-5.6),(-17.5,-6.3),(-16.6,-6.3),(-17.8,-6),(-17,-6.5),(-16.6,-6.9),(-17,-6.9),(-16.2,-5.3),(-15.2,-4.7),(-15.6,-4.8),(-14,-3.9),(-13.9,-3.4),(-13.3,-3.3),(-14,-2.7),(-13.6,-2.9),(-12.7,-2.5),(-12.8,-3),(-13,-2.4),(-12.7,-2),(-13.4,-1.9),(-13.7,-1.7),(-12.7,-1.4),(-12,-1.4),(-11,-1),(-10.8,-.6),(-9.9,-.7),(-10.2,-.2),(-9.4,-.2),(-10.8,0.3),(-10,.3),(-9.3,.5),(-7.5,.6),(-10.2,.9),(-9.3,.8),(-10.3,1.4),(-9.4,1.4),(-9.2,2.2),(-7.9,1.7),(-9.8,1.5),(-17,-6),(-16.9,-5.9),(-13.5,-3.2),(-13.2,-2.7),(-10.5,.6),(-9.6,.2),(-10,-.5)]
f_purple = [(-7.2,3.9),(-7.7,4.8),(-6.5,3.8),(-6.2,4.6),(-5.5,5.3),(-6.4,5.7),(-5.1,5.7),(-5.8,6.1),(-4.8,6.2),(-6,7.3),(-5.3,7),(-4.3,6.9),(-5.1,7.9),(-3.8,8),(-2.8,8.4),(-5.1,8.9),(-3.3,8.9),(-2.3,8.5),(-3.1,9.3),(-1.9,9.1),(-2.8,9.9),(-1.6,10),(-.6,9.4),(-2.5,10.7),(-1.2,10.3),(.1,10.5),(-1.9,11.5),(-.4,10.9),(.6,11.2),(1.1,11.7),(.6,11.9),(1.9,11.9),(2,11.4),(1.9,10.3),(1.3,10.9),(-.4,11.8),(-6,5),(-5.7,5.4),(-5.3,6.5),(-4.5,7.5),(-3.5,8.5),(-3,9),(-2.2,10.3),(-1.5,10.7),(-.8,11.3),(0,11.6),(-6.9,4.2)]
f_brown = [(-43.7,3.8),(-43.2,3.8),(-43.5,3.5),(-42.9,3.5),(-43.3,3.2),(-42.8,3.1),(-43.1,2.8),(-42.5,2.7),(-42.8,2.4),(-42.2,2.3),(-42.4,2),(-41.9,1.9),(-43,3.3),(-42.6,2.9)]
f_pink = [(39.8,-10.3),(39.1,-10.7),(40.1,-10.8),(38.6,-11.5),(40.4,-11.4),(39.6,-11.7),(41.1,-11.7),(42.3,-11.9),(40.6,-12.2),(41.8,-12.2),(42.5,-12.5),(41.9,-12.9),(41.1,-12.6),(39.5,-11),(40,-11.3),(41,-12.1),(42,-12.5),(40.2,-11)]
f_gray = [(2.5,12.7),(3,10.8),(3,11),(3.5,12),(4.5,12.2),(5,12.6),(6,12.6),(6.6,12.8),(6,14.4),(5.3,13.8),(6,13.4),(8.9,13.5),(10.3,14),(10.8,14.2),(10.3,13.8),(8.4,13),(9.8,12.8),(11,12.8),(5.3,11.3),(6.9,11.1),(8.2,11.2),(9.2,11.6),(10.8,11.7),(7.9,12),(9.2,12.2),(10.3,12.3),(7.4,11.7),(5,12),(13.1,11),(12.5,10.9),(14,10.7),(13.3,10.3),(15,10.2),(14.4,9.8),(15.7,9.8),(15,9.3),(14.2,9.1),(15.7,9.1),(14.6,8.9),(6.2,12),(8.5,12.3),(9,12.8),(10,12.6),(9.7,11.2),(8.6,11.8),(13.7,10.5),(14.5,10)]
f_olive = [(25.5,.8),(26.1,.5),(25.2,.2),(26.4,-.1),(25.8,-.5),(27.1,-.8),(26.4,-1.1),(27.7,-1.5),(28.4,-2),(28.1,-2.5),(29.4,-2.5),(28.7,-2.9),(30.3,-3),(28.9,-3.4),(29.9,-3.6),(29.4,-3.9),(30.8,-4.1),(30.3,-4.6),(31.3,-4.8),(31.8,-5.2),(25.7,.5),(26,-.3),(26.6,-.6),(27.9,-1.8),(28.5,-2.3),(29,-2.8),(29.3,-3.1),(30,-3.2),(29.9,-4.1),(30.6,-4.4)]
f_cyan = [(-32.4,-5),(-33,-5.5),(-32.2,-5.7),(-32,-6.1),(-31.2,-6.2),(-30.8,-6.6),(-29.5,-6.6),(-30.2,-6.9),(-28.6,-6.5),(-28,-7),(-29.2,-7.2),(-27,-7),(-26,-7),(-29,-7.6),(-27.8,-7.5),(-26.4,-7.5),(-24.8,-7.3),(-23.6,-7.3),(-22.5,-7.3),(-28.2,-8),(-26.5,-8),(-25,-7.9),(-24,-7.9),(-23,-7.8),(-21.5,-7.5),(-20.3,-7.4),(-27,-8.5),(-25.5,-8.5),(-24.5,-8.5),(-23.3,-8.4),(-22,-8.2),(-21,-8.3),(-19.5,-7.6),(-20,-6.6),(-19,-6.7),(-18.8,-6.2),(-19.4,-7),(-26,-8.5),(-23.8,-8.9),(-22.8,-8.8),(-20.3,-8.9),(-19.8,-8.9),(-20.5,-8.5),(-21.5,-8.6),(-18.7,-7),(-31,-6.8),(-30,-7.3),(-28.5,-7.2),(-27.2,-7.7),(-25.5,-7.6),(-24.5,-7.3),(-23.4,-8),(-22.2,-7.6),(-21,-7.8),(-20,-7.9),(-24.5,-8),(-26.8,-7.9)]

titles = ["Train: Statistical", "Train: Raw SigLIP2", "Train: Trained Projection",
          "Test: Statistical", "Test: Raw SigLIP2", "Test: Trained Projection"]
silhouettes = ["0.385", "0.146", "0.453", "0.297", "0.135", "0.468"]
x_label = "t-SNE Dim 1"
y_label = "t-SNE Dim 2"

panels = [
    [a_blue, a_orange, a_green, a_red, a_purple, a_brown, a_pink, a_gray, a_olive, a_cyan],
    [b_blue, b_orange, b_green, b_red, b_purple, b_brown, b_pink, b_gray, b_olive, b_cyan],
    [c_blue, c_orange, c_green, c_red, c_purple, c_brown, c_pink, c_gray, c_olive, c_cyan],
    [d_blue, d_orange, d_green, d_red, d_purple, d_brown, d_pink, d_gray, d_olive, d_cyan],
    [e_blue, e_orange, e_green, e_red, e_purple, e_brown, e_pink, e_gray, e_olive, e_cyan],
    [f_blue, f_orange, f_green, f_red, f_purple, f_brown, f_pink, f_gray, f_olive, f_cyan],
]
colors = [BLUE, ORANGE, GREEN, RED, PURPLE, BROWN, PINK, GRAY, OLIVE, CYAN]

FIG_W, FIG_H = 1180, 750
x_px = [(75, 397.3), (465.3, 787.7), (855.3, 1177)] * 2
y_px = [(48, 336.3)] * 3 + [(425.7, 714.3)] * 3
x_ranges = [(-36.6, 42.5), (-43.9, 41.86), (-57.4, 57.8), (-51.6, 45.6), (-44.7, 47.85), (-47.6, 46.5)]
y_ranges = [(-18.38, 23.48), (-22.14, 18.6), (-5.31, 6.72), (-12.08, 9.14), (-18.58, 13.66), (-14.24, 15.83)]
x_dticks = [10, 20, 20, 20, 20, 20]
y_dticks = [5, 5, 2, 2.5, 5, 5]
y_formats = ["d", "d", "d", ".1f", "d", "d"]
ylabel_px = [29, 418, 817, 15, 418, 808]
xlabel_px = [367, 367, 367, 742, 742, 742]
x_centers = [236, 626.5, 1016.5, 236, 626.5, 1016.5]
backgrounds = ["white", "white", "#f6fff6", "white", "white", "#f6fff6"]

FONT = "DejaVu Serif"
GRID = "rgba(140,140,140,0.18)"
fig = go.Figure()
annotations = []
for i, groups in enumerate(panels):
    n = "" if i == 0 else str(i + 1)
    for pts, col in zip(groups, colors):
        fig.add_trace(go.Scatter(
            x=[p[0] for p in pts], y=[p[1] for p in pts], mode="markers",
            xaxis="x" + n, yaxis="y" + n, showlegend=False,
            marker=dict(color=col, size=7.5, opacity=0.7, line=dict(width=0))))
    common = dict(showline=True, mirror=True, linecolor="#333333", linewidth=1,
                  ticks="outside", ticklen=4, tickwidth=1, tickcolor="#333333",
                  showgrid=True, gridcolor=GRID, gridwidth=1, zeroline=False,
                  tickfont=dict(family=FONT, size=13.5, color="#222222"))
    fig.layout["xaxis" + n] = dict(
        domain=[x_px[i][0] / FIG_W, x_px[i][1] / FIG_W], range=list(x_ranges[i]),
        anchor="y" + n, tick0=0, dtick=x_dticks[i], ticklabelstandoff=-3, **common)
    fig.layout["yaxis" + n] = dict(
        domain=[1 - y_px[i][1] / FIG_H, 1 - y_px[i][0] / FIG_H], range=list(y_ranges[i]),
        anchor="x" + n, tick0=0, dtick=y_dticks[i], tickformat=y_formats[i], **common)
    label_font = dict(family=FONT, size=13, color="#222222")
    annotations.append(dict(
        x=x_centers[i] / FIG_W, y=1 - xlabel_px[i] / FIG_H, xref="paper", yref="paper",
        text=x_label, showarrow=False, xanchor="center", yanchor="middle", borderpad=0, font=label_font))
    annotations.append(dict(
        x=ylabel_px[i] / FIG_W, y=1 - (y_px[i][0] + y_px[i][1]) / 2 / FIG_H, xref="paper", yref="paper",
        text=y_label, showarrow=False, textangle=-90, xanchor="center", yanchor="middle", font=label_font))
    for label, dy in ((titles[i], 30), ("Silhouette: " + silhouettes[i], 12.5)):
        annotations.append(dict(
            x=x_centers[i] / FIG_W, y=1 - (y_px[i][0] - dy) / FIG_H, xref="paper", yref="paper",
            text="<b>" + label + "</b>", showarrow=False, yanchor="middle", xanchor="center",
            font=dict(family=FONT, size=15.8, color="black")))

fig.update_layout(
    width=FIG_W, height=FIG_H, margin=dict(l=0, r=0, t=0, b=0),
    paper_bgcolor="white", plot_bgcolor="white", annotations=annotations)
for i, bg in enumerate(backgrounds):
    if bg != "white":
        n = "" if i == 0 else str(i + 1)
        fig.add_shape(type="rect", xref="x" + n + " domain", yref="y" + n + " domain",
                      x0=0, x1=1, y0=0, y1=1, fillcolor=bg, line=dict(width=0), layer="below")

fig.write_html("out.html", config={"displayModeBar": False}, post_script=(
    "document.body.style.margin='0';"
    "document.documentElement.style.overflow='hidden';"
    "document.body.style.overflow='hidden';"))
